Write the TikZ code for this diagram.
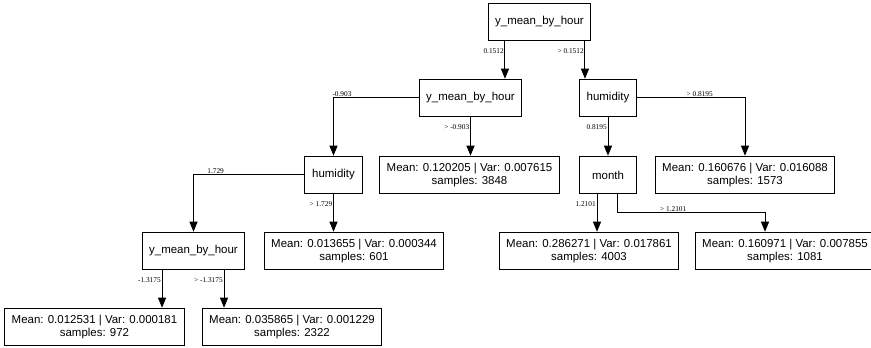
\documentclass[tikz,border=0pt]{standalone}
\usepackage{fontspec}
\setmainfont{Liberation Sans}
\newfontfamily\edgefont{Liberation Serif}
\usetikzlibrary{arrows.meta}
\tikzset{every picture/.style={line width=0.75pt}}
\tikzset{
  box/.style={draw, line width=0.9pt, minimum width=43pt, minimum height=28pt,
    inner xsep=5.25pt, align=center, font=\fontsize{8.6}{9.3}\selectfont},
  edge/.style={-{Triangle[length=7.5pt,width=6pt]}},
  lbl/.style={inner sep=0.6pt, font=\edgefont\fontsize{5.5}{6}\selectfont},
  vlbl/.style={lbl, anchor=east, pos=0.25},
  hlbl/.style={lbl, anchor=south}
}

\begin{document}
\begin{tikzpicture}[x=0.75pt,y=0.75pt,yscale=-1,xscale=1]
\useasboundingbox (0,0) rectangle (871,348);
% split nodes
\node [box] (root) at (539.5,22) {y\_mean\_by\_hour};
\node [box] (ymhA) at (470.5,98) {y\_mean\_by\_hour};
\node [box] (humA) at (608,98) {humidity};
\node [box] (humB) at (333.5,175) {humidity};
\node [box] (month) at (608,175) {month};
\node [box] (ymhB) at (193.5,251) {y\_mean\_by\_hour};
% leaves
\node [box] (leafA) at (469.5,175) {Mean: 0.120205 | Var: 0.007615\\samples: 3848};
\node [box] (leafB) at (745,175) {Mean: 0.160676 | Var: 0.016088\\samples: 1573};
\node [box] (leafC) at (354,251) {Mean: 0.013655 | Var: 0.000344\\samples: 601};
\node [box] (leafD) at (589,251) {Mean: 0.286271 | Var: 0.017861\\samples: 4003};
\node [box] (leafE) at (785,251) {Mean: 0.160971 | Var: 0.007855\\samples: 1081};
\node [box] (leafF) at (94.5,327) {Mean: 0.012531 | Var: 0.000181\\samples: 972};
\node [box] (leafG) at (292,327) {Mean: 0.035865 | Var: 0.001229\\samples: 2322};
\coordinate (mbend) at (691,213);
% edges
\draw [edge] ([xshift=-25.9pt]root.south) -- node[vlbl]{0.1512} ([xshift=-25.9pt]root.south |- ymhA.north);
\draw [edge] ([xshift=34.1pt]root.south) -- node[vlbl]{> 0.1512} ([xshift=34.1pt]root.south |- humA.north);
\draw [edge] (ymhA.west) -| node[hlbl, pos=0.45]{-0.903} (humB.north);
\draw [edge] (ymhA.south) -- node[vlbl]{> -0.903} (ymhA.south |- leafA.north);
\draw [edge] (humA.south) -- node[vlbl]{0.8195} (month.north);
\draw [edge] (humA.east) -| node[hlbl, pos=0.29]{> 0.8195} (leafB.north);
\draw [edge] (humB.west) -| node[hlbl, pos=0.4]{1.729} (ymhB.north);
\draw [edge] (humB.south) -- node[vlbl]{> 1.729} (humB.south |- leafC.north);
\draw [edge] ([xshift=-8.25pt]month.south) -- node[vlbl]{1.2101} ([xshift=-8.25pt]month.south |- leafD.north);
\draw [edge] ([xshift=6.75pt]month.south) |- node[hlbl, pos=0.69]{> 1.2101} ([xshift=-15pt]leafE.north |- mbend) -- ([xshift=-15pt]leafE.north);
\draw [edge] ([xshift=-23.6pt]ymhB.south) -- node[vlbl]{-1.3175} ([xshift=-23.6pt]ymhB.south |- leafF.north);
\draw [edge] ([xshift=22.9pt]ymhB.south) -- node[vlbl]{> -1.3175} ([xshift=22.9pt]ymhB.south |- leafG.north);
\end{tikzpicture}
\end{document}
